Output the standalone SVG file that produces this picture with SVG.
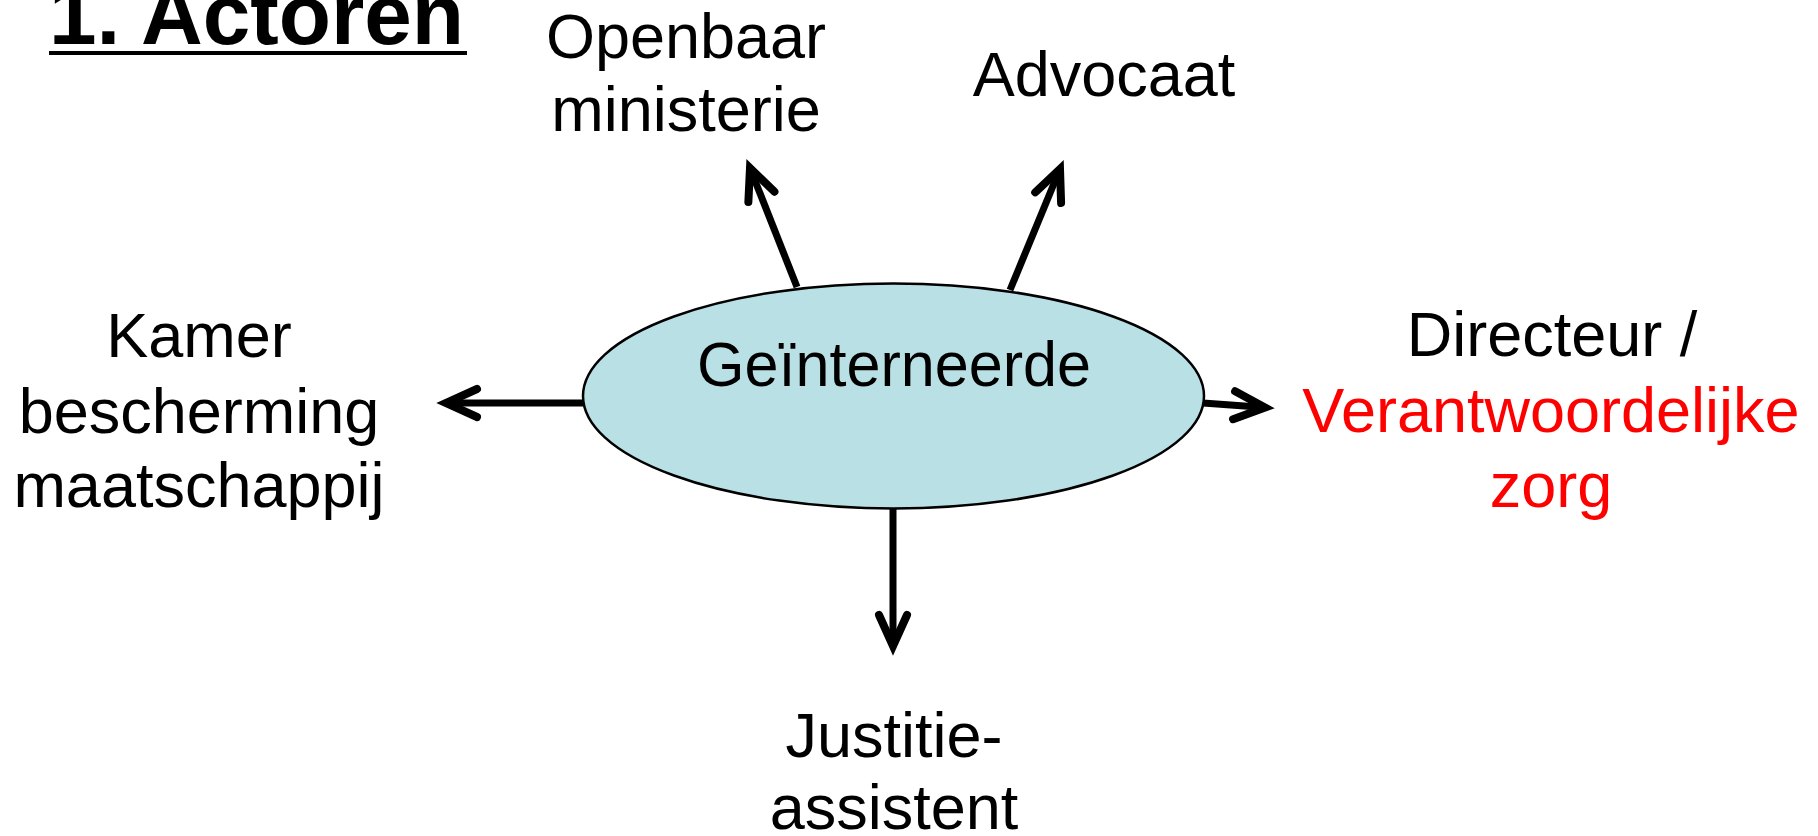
<svg xmlns="http://www.w3.org/2000/svg" width="1818" height="836" viewBox="0 0 1818 836">
<style>
  .lbl { font-family: "Liberation Sans", Arial, sans-serif; font-size: 63px; fill: #000; text-anchor: middle; }
  .red { fill: #FF0000; }
  .title { font-family: "Liberation Sans", Arial, sans-serif; font-size: 85.5px; font-weight: bold; fill: #000; }
  .conn { stroke: #000; stroke-width: 7; fill: none; marker-end: url(#arr); }
</style>
<defs>
  <marker id="arr" markerUnits="userSpaceOnUse" markerWidth="60" markerHeight="60" refX="0" refY="0" orient="auto" overflow="visible">
    <path d="M-31,-14 L0,0 L-31,14" fill="none" stroke="#000" stroke-width="8" stroke-linecap="round" stroke-linejoin="miter" stroke-miterlimit="10"/>
  </marker>
</defs>
<rect width="1818" height="836" fill="#fff"/>
<g id="title">
  <text class="title" x="49" y="44">1. Actoren</text>
  <rect x="49" y="51" width="418" height="4" fill="#000"/>
</g>
<g id="connectors">
  <line class="conn" x1="583" y1="403" x2="446" y2="403"/>
  <line class="conn" x1="1203" y1="403" x2="1265" y2="407.5"/>
  <line class="conn" x1="893" y1="509" x2="893" y2="646"/>
  <line class="conn" x1="797" y1="287" x2="750" y2="168"/>
  <line class="conn" x1="1010" y1="290" x2="1060" y2="169"/>
</g>
<g id="geinterneerde">
  <ellipse cx="893.5" cy="396" rx="310.5" ry="112.5" fill="#B9E0E4" stroke="#000" stroke-width="2.5"/>
  <text class="lbl" x="894" y="386" textLength="394" lengthAdjust="spacingAndGlyphs">Geïnterneerde</text>
</g>
<g id="openbaar-ministerie">
  <text class="lbl" x="686" y="58">Openbaar</text>
  <text class="lbl" x="686" y="131">ministerie</text>
</g>
<g id="advocaat">
  <text class="lbl" x="1104" y="96">Advocaat</text>
</g>
<g id="kamer">
  <text class="lbl" x="199" y="357">Kamer</text>
  <text class="lbl" x="199" y="433">bescherming</text>
  <text class="lbl" x="199" y="507">maatschappij</text>
</g>
<g id="directeur">
  <text class="lbl" x="1552" y="356">Directeur /</text>
  <text class="lbl red" x="1551" y="432">Verantwoordelijke</text>
  <text class="lbl red" x="1551" y="507">zorg</text>
</g>
<g id="justitieassistent">
  <text class="lbl" x="894" y="757">Justitie-</text>
  <text class="lbl" x="894" y="829">assistent</text>
</g>
</svg>
